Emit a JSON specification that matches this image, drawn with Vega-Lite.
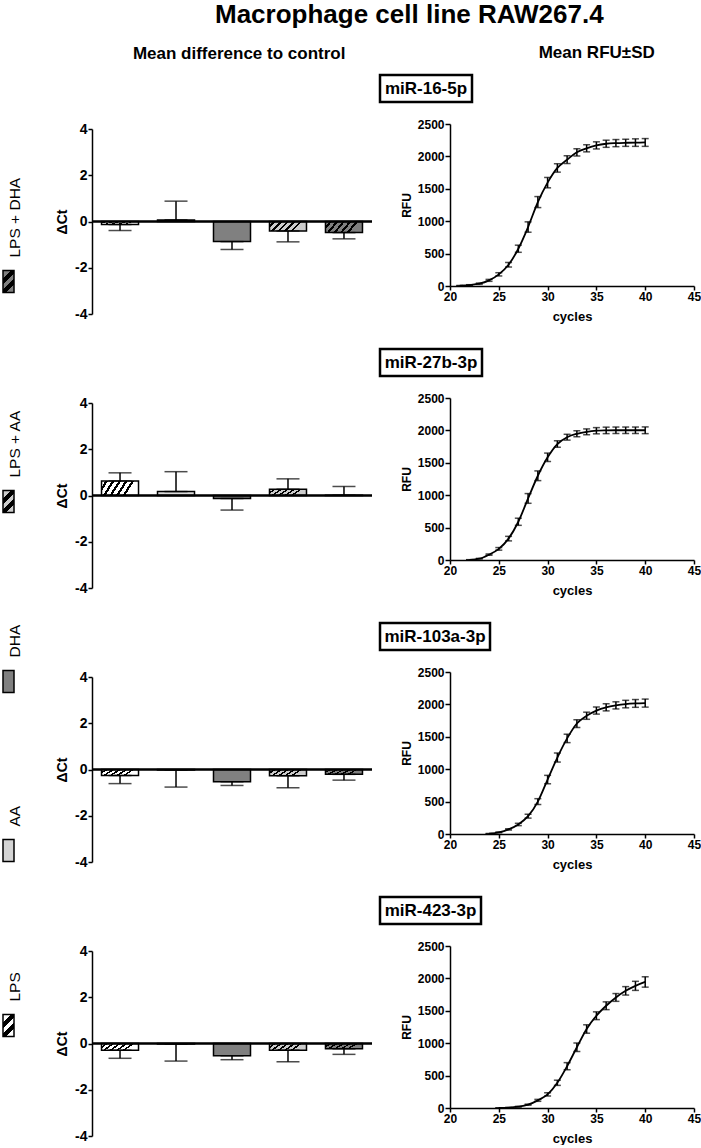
{
  "$schema": "https://vega.github.io/schema/vega-lite/v6.json",
  "padding": {"left": 0, "top": 2, "right": 0, "bottom": 0},
  "title": {"text": "Macrophage cell line RAW267.4", "fontSize": 26, "anchor": "middle", "dx": 59, "offset": 16},
  "datasets": {
    "bars": [
      {"mirna": "miR-16-5p", "treatment": "LPS", "dct": -0.13, "err": -0.39},
      {"mirna": "miR-16-5p", "treatment": "AA", "dct": 0.07, "err": 0.88},
      {"mirna": "miR-16-5p", "treatment": "DHA", "dct": -0.87, "err": -1.21},
      {"mirna": "miR-16-5p", "treatment": "LPS + AA", "dct": -0.41, "err": -0.88},
      {"mirna": "miR-16-5p", "treatment": "LPS + DHA", "dct": -0.48, "err": -0.75},
      {"mirna": "miR-27b-3p", "treatment": "LPS", "dct": 0.63, "err": 0.98},
      {"mirna": "miR-27b-3p", "treatment": "AA", "dct": 0.17, "err": 1.03},
      {"mirna": "miR-27b-3p", "treatment": "DHA", "dct": -0.13, "err": -0.63},
      {"mirna": "miR-27b-3p", "treatment": "LPS + AA", "dct": 0.27, "err": 0.72},
      {"mirna": "miR-27b-3p", "treatment": "LPS + DHA", "dct": 0.01, "err": 0.39},
      {"mirna": "miR-103a-3p", "treatment": "LPS", "dct": -0.26, "err": -0.61},
      {"mirna": "miR-103a-3p", "treatment": "AA", "dct": -0.02, "err": -0.76},
      {"mirna": "miR-103a-3p", "treatment": "DHA", "dct": -0.53, "err": -0.69},
      {"mirna": "miR-103a-3p", "treatment": "LPS + AA", "dct": -0.27, "err": -0.79},
      {"mirna": "miR-103a-3p", "treatment": "LPS + DHA", "dct": -0.21, "err": -0.46},
      {"mirna": "miR-423-3p", "treatment": "LPS", "dct": -0.29, "err": -0.64},
      {"mirna": "miR-423-3p", "treatment": "AA", "dct": -0.02, "err": -0.76},
      {"mirna": "miR-423-3p", "treatment": "DHA", "dct": -0.53, "err": -0.7},
      {"mirna": "miR-423-3p", "treatment": "LPS + AA", "dct": -0.29, "err": -0.79},
      {"mirna": "miR-423-3p", "treatment": "LPS + DHA", "dct": -0.23, "err": -0.47}
    ],
    "curves": [
      {"mirna": "miR-16-5p", "cycle": 21, "rfu": 5, "sd": 3},
      {"mirna": "miR-16-5p", "cycle": 22, "rfu": 15, "sd": 5},
      {"mirna": "miR-16-5p", "cycle": 23, "rfu": 35, "sd": 10},
      {"mirna": "miR-16-5p", "cycle": 24, "rfu": 87, "sd": 15},
      {"mirna": "miR-16-5p", "cycle": 25, "rfu": 180, "sd": 25},
      {"mirna": "miR-16-5p", "cycle": 26, "rfu": 328, "sd": 35},
      {"mirna": "miR-16-5p", "cycle": 27, "rfu": 575, "sd": 55},
      {"mirna": "miR-16-5p", "cycle": 28, "rfu": 910, "sd": 80},
      {"mirna": "miR-16-5p", "cycle": 29, "rfu": 1295, "sd": 85},
      {"mirna": "miR-16-5p", "cycle": 30, "rfu": 1595, "sd": 80},
      {"mirna": "miR-16-5p", "cycle": 31, "rfu": 1822, "sd": 65},
      {"mirna": "miR-16-5p", "cycle": 32, "rfu": 1950, "sd": 60},
      {"mirna": "miR-16-5p", "cycle": 33, "rfu": 2063, "sd": 55},
      {"mirna": "miR-16-5p", "cycle": 34, "rfu": 2125, "sd": 55},
      {"mirna": "miR-16-5p", "cycle": 35, "rfu": 2170, "sd": 55},
      {"mirna": "miR-16-5p", "cycle": 36, "rfu": 2195, "sd": 55},
      {"mirna": "miR-16-5p", "cycle": 37, "rfu": 2205, "sd": 55},
      {"mirna": "miR-16-5p", "cycle": 38, "rfu": 2210, "sd": 55},
      {"mirna": "miR-16-5p", "cycle": 39, "rfu": 2213, "sd": 58},
      {"mirna": "miR-16-5p", "cycle": 40, "rfu": 2215, "sd": 60},
      {"mirna": "miR-27b-3p", "cycle": 22, "rfu": 3, "sd": 2},
      {"mirna": "miR-27b-3p", "cycle": 23, "rfu": 20, "sd": 5},
      {"mirna": "miR-27b-3p", "cycle": 24, "rfu": 83, "sd": 10},
      {"mirna": "miR-27b-3p", "cycle": 25, "rfu": 172, "sd": 20},
      {"mirna": "miR-27b-3p", "cycle": 26, "rfu": 330, "sd": 35},
      {"mirna": "miR-27b-3p", "cycle": 27, "rfu": 590, "sd": 55},
      {"mirna": "miR-27b-3p", "cycle": 28, "rfu": 950, "sd": 75},
      {"mirna": "miR-27b-3p", "cycle": 29, "rfu": 1300, "sd": 75},
      {"mirna": "miR-27b-3p", "cycle": 30, "rfu": 1585, "sd": 65},
      {"mirna": "miR-27b-3p", "cycle": 31, "rfu": 1790, "sd": 50},
      {"mirna": "miR-27b-3p", "cycle": 32, "rfu": 1895, "sd": 45},
      {"mirna": "miR-27b-3p", "cycle": 33, "rfu": 1948, "sd": 45},
      {"mirna": "miR-27b-3p", "cycle": 34, "rfu": 1978, "sd": 45},
      {"mirna": "miR-27b-3p", "cycle": 35, "rfu": 1995, "sd": 48},
      {"mirna": "miR-27b-3p", "cycle": 36, "rfu": 2000, "sd": 50},
      {"mirna": "miR-27b-3p", "cycle": 37, "rfu": 2002, "sd": 50},
      {"mirna": "miR-27b-3p", "cycle": 38, "rfu": 2002, "sd": 50},
      {"mirna": "miR-27b-3p", "cycle": 39, "rfu": 2002, "sd": 50},
      {"mirna": "miR-27b-3p", "cycle": 40, "rfu": 2002, "sd": 52},
      {"mirna": "miR-103a-3p", "cycle": 24, "rfu": 5, "sd": 3},
      {"mirna": "miR-103a-3p", "cycle": 25, "rfu": 25, "sd": 6},
      {"mirna": "miR-103a-3p", "cycle": 26, "rfu": 71, "sd": 10},
      {"mirna": "miR-103a-3p", "cycle": 27, "rfu": 147, "sd": 18},
      {"mirna": "miR-103a-3p", "cycle": 28, "rfu": 275, "sd": 30},
      {"mirna": "miR-103a-3p", "cycle": 29, "rfu": 500, "sd": 45},
      {"mirna": "miR-103a-3p", "cycle": 30, "rfu": 840, "sd": 65},
      {"mirna": "miR-103a-3p", "cycle": 31, "rfu": 1180, "sd": 70},
      {"mirna": "miR-103a-3p", "cycle": 32, "rfu": 1475, "sd": 65},
      {"mirna": "miR-103a-3p", "cycle": 33, "rfu": 1705, "sd": 60},
      {"mirna": "miR-103a-3p", "cycle": 34, "rfu": 1825, "sd": 55},
      {"mirna": "miR-103a-3p", "cycle": 35, "rfu": 1905, "sd": 55},
      {"mirna": "miR-103a-3p", "cycle": 36, "rfu": 1955, "sd": 55},
      {"mirna": "miR-103a-3p", "cycle": 37, "rfu": 1985, "sd": 55},
      {"mirna": "miR-103a-3p", "cycle": 38, "rfu": 2005, "sd": 58},
      {"mirna": "miR-103a-3p", "cycle": 39, "rfu": 2015, "sd": 60},
      {"mirna": "miR-103a-3p", "cycle": 40, "rfu": 2020, "sd": 62},
      {"mirna": "miR-423-3p", "cycle": 25, "rfu": 1, "sd": 1},
      {"mirna": "miR-423-3p", "cycle": 26, "rfu": 5, "sd": 3},
      {"mirna": "miR-423-3p", "cycle": 27, "rfu": 20, "sd": 5},
      {"mirna": "miR-423-3p", "cycle": 28, "rfu": 51, "sd": 8},
      {"mirna": "miR-423-3p", "cycle": 29, "rfu": 118, "sd": 15},
      {"mirna": "miR-423-3p", "cycle": 30, "rfu": 210, "sd": 25},
      {"mirna": "miR-423-3p", "cycle": 31, "rfu": 389, "sd": 40},
      {"mirna": "miR-423-3p", "cycle": 32, "rfu": 645, "sd": 55},
      {"mirna": "miR-423-3p", "cycle": 33, "rfu": 937, "sd": 65},
      {"mirna": "miR-423-3p", "cycle": 34, "rfu": 1219, "sd": 65},
      {"mirna": "miR-423-3p", "cycle": 35, "rfu": 1424, "sd": 60},
      {"mirna": "miR-423-3p", "cycle": 36, "rfu": 1578, "sd": 60},
      {"mirna": "miR-423-3p", "cycle": 37, "rfu": 1706, "sd": 60},
      {"mirna": "miR-423-3p", "cycle": 38, "rfu": 1808, "sd": 65},
      {"mirna": "miR-423-3p", "cycle": 39, "rfu": 1885, "sd": 70},
      {"mirna": "miR-423-3p", "cycle": 40, "rfu": 1945, "sd": 80}
    ],
    "legend": [
      {"treatment": "LPS + DHA", "order": 1},
      {"treatment": "LPS + AA", "order": 2},
      {"treatment": "DHA", "order": 3},
      {"treatment": "AA", "order": 4},
      {"treatment": "LPS", "order": 5}
    ],
    "labels": [
      {"label": "miR-16-5p"},
      {"label": "miR-27b-3p"},
      {"label": "miR-103a-3p"},
      {"label": "miR-423-3p"}
    ]
  },
  "spacing": 32,
  "hconcat": [
    {
      "width": 15,
      "height": 975,
      "data": {"name": "legend"},
      "encoding": {
        "y": {"field": "order", "type": "quantitative", "scale": {"domain": [1, 2, 3, 4, 5], "range": [206.5, 426.5, 606.5, 775.5, 950.5]}, "axis": null}
      },
      "layer": [
        {"transform": [{"filter": {"field": "treatment", "equal": "LPS"}}],
         "mark": {"type": "point", "shape": "M-0.5,-1H0.5V1H-0.5Z", "size": 484, "filled": true, "opacity": 1, "stroke": "black", "strokeWidth": 1.5,
           "fill": {"gradient": "linear", "x1": 0, "y1": 0, "x2": 0.6, "y2": 1.2, "stops": [
             {"offset": 0, "color": "#ffffff"}, {"offset": 0.25, "color": "#ffffff"}, {"offset": 0.25, "color": "#000000"}, {"offset": 0.42, "color": "#000000"},
             {"offset": 0.42, "color": "#ffffff"}, {"offset": 0.58, "color": "#ffffff"}, {"offset": 0.58, "color": "#000000"}, {"offset": 0.75, "color": "#000000"},
             {"offset": 0.75, "color": "#ffffff"}, {"offset": 1, "color": "#ffffff"}]}}},
        {"transform": [{"filter": {"field": "treatment", "equal": "AA"}}],
         "mark": {"type": "point", "shape": "M-0.5,-1H0.5V1H-0.5Z", "size": 484, "filled": true, "opacity": 1, "stroke": "black", "strokeWidth": 1.5, "fill": "#d4d4d4"}},
        {"transform": [{"filter": {"field": "treatment", "equal": "DHA"}}],
         "mark": {"type": "point", "shape": "M-0.5,-1H0.5V1H-0.5Z", "size": 484, "filled": true, "opacity": 1, "stroke": "black", "strokeWidth": 1.5, "fill": "#808080"}},
        {"transform": [{"filter": {"field": "treatment", "equal": "LPS + AA"}}],
         "mark": {"type": "point", "shape": "M-0.5,-1H0.5V1H-0.5Z", "size": 484, "filled": true, "opacity": 1, "stroke": "black", "strokeWidth": 1.5,
           "fill": {"gradient": "linear", "x1": 0, "y1": 0, "x2": 0.6, "y2": 1.2, "stops": [
             {"offset": 0, "color": "#cccccc"}, {"offset": 0.25, "color": "#cccccc"}, {"offset": 0.25, "color": "#000000"}, {"offset": 0.42, "color": "#000000"},
             {"offset": 0.42, "color": "#cccccc"}, {"offset": 0.58, "color": "#cccccc"}, {"offset": 0.58, "color": "#000000"}, {"offset": 0.75, "color": "#000000"},
             {"offset": 0.75, "color": "#cccccc"}, {"offset": 1, "color": "#cccccc"}]}}},
        {"transform": [{"filter": {"field": "treatment", "equal": "LPS + DHA"}}],
         "mark": {"type": "point", "shape": "M-0.5,-1H0.5V1H-0.5Z", "size": 484, "filled": true, "opacity": 1, "stroke": "black", "strokeWidth": 1.5,
           "fill": {"gradient": "linear", "x1": 0, "y1": 0, "x2": 0.6, "y2": 1.2, "stops": [
             {"offset": 0, "color": "#7f7f7f"}, {"offset": 0.25, "color": "#7f7f7f"}, {"offset": 0.25, "color": "#000000"}, {"offset": 0.42, "color": "#000000"},
             {"offset": 0.42, "color": "#7f7f7f"}, {"offset": 0.58, "color": "#7f7f7f"}, {"offset": 0.58, "color": "#000000"}, {"offset": 0.75, "color": "#000000"},
             {"offset": 0.75, "color": "#7f7f7f"}, {"offset": 1, "color": "#7f7f7f"}]}}},
        {
          "mark": {"type": "text", "angle": 270, "align": "left", "baseline": "middle", "dx": 24, "dy": 6, "fontSize": 15.5, "font": "Liberation Sans", "color": "black"},
          "encoding": {"text": {"field": "treatment"}}
        }
      ]
    },
    {
      "spacing": 5,
      "hconcat": [
        {
          "title": {"text": "Mean difference to control", "fontSize": 17, "anchor": "middle", "dx": 25, "offset": 12.5},
          "spacing": 20,
          "vconcat": [
            {"width": 10, "height": 26.5, "data": {"values": []}, "mark": "point"},
            {
              "spacing": 75,
              "vconcat": [
                {
                  "width": 280, "height": 185,
                  "data": {"name": "bars"},
                  "transform": [{"filter": {"field": "mirna", "equal": "miR-16-5p"}}],
                  "layer": [
                    {
                      "encoding": {
                        "x": {"field": "treatment", "type": "nominal", "scale": {"domain": ["LPS", "AA", "DHA", "LPS + AA", "LPS + DHA"], "paddingInner": 0.339, "paddingOuter": 0.17}, "axis": null},
                        "y": {"field": "dct", "type": "quantitative", "title": "ΔCt", "scale": {"domain": [-4, 4]}, "axis": {"values": [-4, -2, 0, 2, 4], "labelExpr": "'' + datum.value", "labelFontSize": 14, "titleFontSize": 14, "tickSize": 4, "labelPadding": 1, "titlePadding": 5, "labelFlush": false, "labelOverlap": false}}
                      },
                      "layer": [
                        {"transform": [{"filter": {"field": "treatment", "equal": "LPS"}}], "mark": {"type": "bar", "stroke": "black", "strokeWidth": 1.5,
                          "fill": {"gradient": "linear", "x1": 0, "y1": 0, "x2": 1, "y2": 0.25, "stops": [
                            {"offset": 0, "color": "#ffffff"}, {"offset": 0.1, "color": "#ffffff"}, {"offset": 0.1, "color": "#000000"}, {"offset": 0.1667, "color": "#000000"},
                            {"offset": 0.1667, "color": "#ffffff"}, {"offset": 0.2667, "color": "#ffffff"}, {"offset": 0.2667, "color": "#000000"}, {"offset": 0.3333, "color": "#000000"},
                            {"offset": 0.3333, "color": "#ffffff"}, {"offset": 0.4333, "color": "#ffffff"}, {"offset": 0.4333, "color": "#000000"}, {"offset": 0.5, "color": "#000000"},
                            {"offset": 0.5, "color": "#ffffff"}, {"offset": 0.6, "color": "#ffffff"}, {"offset": 0.6, "color": "#000000"}, {"offset": 0.6667, "color": "#000000"},
                            {"offset": 0.6667, "color": "#ffffff"}, {"offset": 0.7667, "color": "#ffffff"}, {"offset": 0.7667, "color": "#000000"}, {"offset": 0.8333, "color": "#000000"},
                            {"offset": 0.8333, "color": "#ffffff"}, {"offset": 1, "color": "#ffffff"}]}}},
                        {"transform": [{"filter": {"field": "treatment", "equal": "AA"}}], "mark": {"type": "bar", "stroke": "black", "strokeWidth": 1.5, "fill": "#dcdcdc"}},
                        {"transform": [{"filter": {"field": "treatment", "equal": "DHA"}}], "mark": {"type": "bar", "stroke": "black", "strokeWidth": 1.5, "fill": "#808080"}},
                        {"transform": [{"filter": {"field": "treatment", "equal": "LPS + AA"}}], "mark": {"type": "bar", "stroke": "black", "strokeWidth": 1.5,
                          "fill": {"gradient": "linear", "x1": 0, "y1": 0, "x2": 1, "y2": 0.25, "stops": [
                            {"offset": 0, "color": "#cccccc"}, {"offset": 0.1, "color": "#cccccc"}, {"offset": 0.1, "color": "#000000"}, {"offset": 0.1667, "color": "#000000"},
                            {"offset": 0.1667, "color": "#cccccc"}, {"offset": 0.2667, "color": "#cccccc"}, {"offset": 0.2667, "color": "#000000"}, {"offset": 0.3333, "color": "#000000"},
                            {"offset": 0.3333, "color": "#cccccc"}, {"offset": 0.4333, "color": "#cccccc"}, {"offset": 0.4333, "color": "#000000"}, {"offset": 0.5, "color": "#000000"},
                            {"offset": 0.5, "color": "#cccccc"}, {"offset": 0.6, "color": "#cccccc"}, {"offset": 0.6, "color": "#000000"}, {"offset": 0.6667, "color": "#000000"},
                            {"offset": 0.6667, "color": "#cccccc"}, {"offset": 0.7667, "color": "#cccccc"}, {"offset": 0.7667, "color": "#000000"}, {"offset": 0.8333, "color": "#000000"},
                            {"offset": 0.8333, "color": "#cccccc"}, {"offset": 1, "color": "#cccccc"}]}}},
                        {"transform": [{"filter": {"field": "treatment", "equal": "LPS + DHA"}}], "mark": {"type": "bar", "stroke": "black", "strokeWidth": 1.5,
                          "fill": {"gradient": "linear", "x1": 0, "y1": 0, "x2": 1, "y2": 0.25, "stops": [
                            {"offset": 0, "color": "#7f7f7f"}, {"offset": 0.1, "color": "#7f7f7f"}, {"offset": 0.1, "color": "#000000"}, {"offset": 0.1667, "color": "#000000"},
                            {"offset": 0.1667, "color": "#7f7f7f"}, {"offset": 0.2667, "color": "#7f7f7f"}, {"offset": 0.2667, "color": "#000000"}, {"offset": 0.3333, "color": "#000000"},
                            {"offset": 0.3333, "color": "#7f7f7f"}, {"offset": 0.4333, "color": "#7f7f7f"}, {"offset": 0.4333, "color": "#000000"}, {"offset": 0.5, "color": "#000000"},
                            {"offset": 0.5, "color": "#7f7f7f"}, {"offset": 0.6, "color": "#7f7f7f"}, {"offset": 0.6, "color": "#000000"}, {"offset": 0.6667, "color": "#000000"},
                            {"offset": 0.6667, "color": "#7f7f7f"}, {"offset": 0.7667, "color": "#7f7f7f"}, {"offset": 0.7667, "color": "#000000"}, {"offset": 0.8333, "color": "#000000"},
                            {"offset": 0.8333, "color": "#7f7f7f"}, {"offset": 1, "color": "#7f7f7f"}]}}},
                        {"mark": {"type": "errorbar", "ticks": {"size": 23, "thickness": 1.5, "color": "black"}, "rule": {"strokeWidth": 1.5, "color": "black"}},
                         "encoding": {"y2": {"field": "err"}}}
                      ]
                    },
                    {"mark": {"type": "rule", "color": "black", "strokeWidth": 1.5}, "encoding": {"y": {"datum": 0, "type": "quantitative", "title": "ΔCt"}}}
                  ]
                },
                {
                  "width": 280, "height": 185,
                  "data": {"name": "bars"},
                  "transform": [{"filter": {"field": "mirna", "equal": "miR-27b-3p"}}],
                  "layer": [
                    {
                      "encoding": {
                        "x": {"field": "treatment", "type": "nominal", "scale": {"domain": ["LPS", "AA", "DHA", "LPS + AA", "LPS + DHA"], "paddingInner": 0.339, "paddingOuter": 0.17}, "axis": null},
                        "y": {"field": "dct", "type": "quantitative", "title": "ΔCt", "scale": {"domain": [-4, 4]}, "axis": {"values": [-4, -2, 0, 2, 4], "labelExpr": "'' + datum.value", "labelFontSize": 14, "titleFontSize": 14, "tickSize": 4, "labelPadding": 1, "titlePadding": 5, "labelFlush": false, "labelOverlap": false}}
                      },
                      "layer": [
                        {"transform": [{"filter": {"field": "treatment", "equal": "LPS"}}], "mark": {"type": "bar", "stroke": "black", "strokeWidth": 1.5,
                          "fill": {"gradient": "linear", "x1": 0, "y1": 0, "x2": 1, "y2": 0.25, "stops": [
                            {"offset": 0, "color": "#ffffff"}, {"offset": 0.1, "color": "#ffffff"}, {"offset": 0.1, "color": "#000000"}, {"offset": 0.1667, "color": "#000000"},
                            {"offset": 0.1667, "color": "#ffffff"}, {"offset": 0.2667, "color": "#ffffff"}, {"offset": 0.2667, "color": "#000000"}, {"offset": 0.3333, "color": "#000000"},
                            {"offset": 0.3333, "color": "#ffffff"}, {"offset": 0.4333, "color": "#ffffff"}, {"offset": 0.4333, "color": "#000000"}, {"offset": 0.5, "color": "#000000"},
                            {"offset": 0.5, "color": "#ffffff"}, {"offset": 0.6, "color": "#ffffff"}, {"offset": 0.6, "color": "#000000"}, {"offset": 0.6667, "color": "#000000"},
                            {"offset": 0.6667, "color": "#ffffff"}, {"offset": 0.7667, "color": "#ffffff"}, {"offset": 0.7667, "color": "#000000"}, {"offset": 0.8333, "color": "#000000"},
                            {"offset": 0.8333, "color": "#ffffff"}, {"offset": 1, "color": "#ffffff"}]}}},
                        {"transform": [{"filter": {"field": "treatment", "equal": "AA"}}], "mark": {"type": "bar", "stroke": "black", "strokeWidth": 1.5, "fill": "#dcdcdc"}},
                        {"transform": [{"filter": {"field": "treatment", "equal": "DHA"}}], "mark": {"type": "bar", "stroke": "black", "strokeWidth": 1.5, "fill": "#808080"}},
                        {"transform": [{"filter": {"field": "treatment", "equal": "LPS + AA"}}], "mark": {"type": "bar", "stroke": "black", "strokeWidth": 1.5,
                          "fill": {"gradient": "linear", "x1": 0, "y1": 0, "x2": 1, "y2": 0.25, "stops": [
                            {"offset": 0, "color": "#cccccc"}, {"offset": 0.1, "color": "#cccccc"}, {"offset": 0.1, "color": "#000000"}, {"offset": 0.1667, "color": "#000000"},
                            {"offset": 0.1667, "color": "#cccccc"}, {"offset": 0.2667, "color": "#cccccc"}, {"offset": 0.2667, "color": "#000000"}, {"offset": 0.3333, "color": "#000000"},
                            {"offset": 0.3333, "color": "#cccccc"}, {"offset": 0.4333, "color": "#cccccc"}, {"offset": 0.4333, "color": "#000000"}, {"offset": 0.5, "color": "#000000"},
                            {"offset": 0.5, "color": "#cccccc"}, {"offset": 0.6, "color": "#cccccc"}, {"offset": 0.6, "color": "#000000"}, {"offset": 0.6667, "color": "#000000"},
                            {"offset": 0.6667, "color": "#cccccc"}, {"offset": 0.7667, "color": "#cccccc"}, {"offset": 0.7667, "color": "#000000"}, {"offset": 0.8333, "color": "#000000"},
                            {"offset": 0.8333, "color": "#cccccc"}, {"offset": 1, "color": "#cccccc"}]}}},
                        {"transform": [{"filter": {"field": "treatment", "equal": "LPS + DHA"}}], "mark": {"type": "bar", "stroke": "black", "strokeWidth": 1.5,
                          "fill": {"gradient": "linear", "x1": 0, "y1": 0, "x2": 1, "y2": 0.25, "stops": [
                            {"offset": 0, "color": "#7f7f7f"}, {"offset": 0.1, "color": "#7f7f7f"}, {"offset": 0.1, "color": "#000000"}, {"offset": 0.1667, "color": "#000000"},
                            {"offset": 0.1667, "color": "#7f7f7f"}, {"offset": 0.2667, "color": "#7f7f7f"}, {"offset": 0.2667, "color": "#000000"}, {"offset": 0.3333, "color": "#000000"},
                            {"offset": 0.3333, "color": "#7f7f7f"}, {"offset": 0.4333, "color": "#7f7f7f"}, {"offset": 0.4333, "color": "#000000"}, {"offset": 0.5, "color": "#000000"},
                            {"offset": 0.5, "color": "#7f7f7f"}, {"offset": 0.6, "color": "#7f7f7f"}, {"offset": 0.6, "color": "#000000"}, {"offset": 0.6667, "color": "#000000"},
                            {"offset": 0.6667, "color": "#7f7f7f"}, {"offset": 0.7667, "color": "#7f7f7f"}, {"offset": 0.7667, "color": "#000000"}, {"offset": 0.8333, "color": "#000000"},
                            {"offset": 0.8333, "color": "#7f7f7f"}, {"offset": 1, "color": "#7f7f7f"}]}}},
                        {"mark": {"type": "errorbar", "ticks": {"size": 23, "thickness": 1.5, "color": "black"}, "rule": {"strokeWidth": 1.5, "color": "black"}},
                         "encoding": {"y2": {"field": "err"}}}
                      ]
                    },
                    {"mark": {"type": "rule", "color": "black", "strokeWidth": 1.5}, "encoding": {"y": {"datum": 0, "type": "quantitative", "title": "ΔCt"}}}
                  ]
                },
                {
                  "width": 280, "height": 185,
                  "data": {"name": "bars"},
                  "transform": [{"filter": {"field": "mirna", "equal": "miR-103a-3p"}}],
                  "layer": [
                    {
                      "encoding": {
                        "x": {"field": "treatment", "type": "nominal", "scale": {"domain": ["LPS", "AA", "DHA", "LPS + AA", "LPS + DHA"], "paddingInner": 0.339, "paddingOuter": 0.17}, "axis": null},
                        "y": {"field": "dct", "type": "quantitative", "title": "ΔCt", "scale": {"domain": [-4, 4]}, "axis": {"values": [-4, -2, 0, 2, 4], "labelExpr": "'' + datum.value", "labelFontSize": 14, "titleFontSize": 14, "tickSize": 4, "labelPadding": 1, "titlePadding": 5, "labelFlush": false, "labelOverlap": false}}
                      },
                      "layer": [
                        {"transform": [{"filter": {"field": "treatment", "equal": "LPS"}}], "mark": {"type": "bar", "stroke": "black", "strokeWidth": 1.5,
                          "fill": {"gradient": "linear", "x1": 0, "y1": 0, "x2": 1, "y2": 0.25, "stops": [
                            {"offset": 0, "color": "#ffffff"}, {"offset": 0.1, "color": "#ffffff"}, {"offset": 0.1, "color": "#000000"}, {"offset": 0.1667, "color": "#000000"},
                            {"offset": 0.1667, "color": "#ffffff"}, {"offset": 0.2667, "color": "#ffffff"}, {"offset": 0.2667, "color": "#000000"}, {"offset": 0.3333, "color": "#000000"},
                            {"offset": 0.3333, "color": "#ffffff"}, {"offset": 0.4333, "color": "#ffffff"}, {"offset": 0.4333, "color": "#000000"}, {"offset": 0.5, "color": "#000000"},
                            {"offset": 0.5, "color": "#ffffff"}, {"offset": 0.6, "color": "#ffffff"}, {"offset": 0.6, "color": "#000000"}, {"offset": 0.6667, "color": "#000000"},
                            {"offset": 0.6667, "color": "#ffffff"}, {"offset": 0.7667, "color": "#ffffff"}, {"offset": 0.7667, "color": "#000000"}, {"offset": 0.8333, "color": "#000000"},
                            {"offset": 0.8333, "color": "#ffffff"}, {"offset": 1, "color": "#ffffff"}]}}},
                        {"transform": [{"filter": {"field": "treatment", "equal": "AA"}}], "mark": {"type": "bar", "stroke": "black", "strokeWidth": 1.5, "fill": "#dcdcdc"}},
                        {"transform": [{"filter": {"field": "treatment", "equal": "DHA"}}], "mark": {"type": "bar", "stroke": "black", "strokeWidth": 1.5, "fill": "#808080"}},
                        {"transform": [{"filter": {"field": "treatment", "equal": "LPS + AA"}}], "mark": {"type": "bar", "stroke": "black", "strokeWidth": 1.5,
                          "fill": {"gradient": "linear", "x1": 0, "y1": 0, "x2": 1, "y2": 0.25, "stops": [
                            {"offset": 0, "color": "#cccccc"}, {"offset": 0.1, "color": "#cccccc"}, {"offset": 0.1, "color": "#000000"}, {"offset": 0.1667, "color": "#000000"},
                            {"offset": 0.1667, "color": "#cccccc"}, {"offset": 0.2667, "color": "#cccccc"}, {"offset": 0.2667, "color": "#000000"}, {"offset": 0.3333, "color": "#000000"},
                            {"offset": 0.3333, "color": "#cccccc"}, {"offset": 0.4333, "color": "#cccccc"}, {"offset": 0.4333, "color": "#000000"}, {"offset": 0.5, "color": "#000000"},
                            {"offset": 0.5, "color": "#cccccc"}, {"offset": 0.6, "color": "#cccccc"}, {"offset": 0.6, "color": "#000000"}, {"offset": 0.6667, "color": "#000000"},
                            {"offset": 0.6667, "color": "#cccccc"}, {"offset": 0.7667, "color": "#cccccc"}, {"offset": 0.7667, "color": "#000000"}, {"offset": 0.8333, "color": "#000000"},
                            {"offset": 0.8333, "color": "#cccccc"}, {"offset": 1, "color": "#cccccc"}]}}},
                        {"transform": [{"filter": {"field": "treatment", "equal": "LPS + DHA"}}], "mark": {"type": "bar", "stroke": "black", "strokeWidth": 1.5,
                          "fill": {"gradient": "linear", "x1": 0, "y1": 0, "x2": 1, "y2": 0.25, "stops": [
                            {"offset": 0, "color": "#7f7f7f"}, {"offset": 0.1, "color": "#7f7f7f"}, {"offset": 0.1, "color": "#000000"}, {"offset": 0.1667, "color": "#000000"},
                            {"offset": 0.1667, "color": "#7f7f7f"}, {"offset": 0.2667, "color": "#7f7f7f"}, {"offset": 0.2667, "color": "#000000"}, {"offset": 0.3333, "color": "#000000"},
                            {"offset": 0.3333, "color": "#7f7f7f"}, {"offset": 0.4333, "color": "#7f7f7f"}, {"offset": 0.4333, "color": "#000000"}, {"offset": 0.5, "color": "#000000"},
                            {"offset": 0.5, "color": "#7f7f7f"}, {"offset": 0.6, "color": "#7f7f7f"}, {"offset": 0.6, "color": "#000000"}, {"offset": 0.6667, "color": "#000000"},
                            {"offset": 0.6667, "color": "#7f7f7f"}, {"offset": 0.7667, "color": "#7f7f7f"}, {"offset": 0.7667, "color": "#000000"}, {"offset": 0.8333, "color": "#000000"},
                            {"offset": 0.8333, "color": "#7f7f7f"}, {"offset": 1, "color": "#7f7f7f"}]}}},
                        {"mark": {"type": "errorbar", "ticks": {"size": 23, "thickness": 1.5, "color": "black"}, "rule": {"strokeWidth": 1.5, "color": "black"}},
                         "encoding": {"y2": {"field": "err"}}}
                      ]
                    },
                    {"mark": {"type": "rule", "color": "black", "strokeWidth": 1.5}, "encoding": {"y": {"datum": 0, "type": "quantitative", "title": "ΔCt"}}}
                  ]
                },
                {
                  "width": 280, "height": 185,
                  "data": {"name": "bars"},
                  "transform": [{"filter": {"field": "mirna", "equal": "miR-423-3p"}}],
                  "layer": [
                    {
                      "encoding": {
                        "x": {"field": "treatment", "type": "nominal", "scale": {"domain": ["LPS", "AA", "DHA", "LPS + AA", "LPS + DHA"], "paddingInner": 0.339, "paddingOuter": 0.17}, "axis": null},
                        "y": {"field": "dct", "type": "quantitative", "title": "ΔCt", "scale": {"domain": [-4, 4]}, "axis": {"values": [-4, -2, 0, 2, 4], "labelExpr": "'' + datum.value", "labelFontSize": 14, "titleFontSize": 14, "tickSize": 4, "labelPadding": 1, "titlePadding": 5, "labelFlush": false, "labelOverlap": false}}
                      },
                      "layer": [
                        {"transform": [{"filter": {"field": "treatment", "equal": "LPS"}}], "mark": {"type": "bar", "stroke": "black", "strokeWidth": 1.5,
                          "fill": {"gradient": "linear", "x1": 0, "y1": 0, "x2": 1, "y2": 0.25, "stops": [
                            {"offset": 0, "color": "#ffffff"}, {"offset": 0.1, "color": "#ffffff"}, {"offset": 0.1, "color": "#000000"}, {"offset": 0.1667, "color": "#000000"},
                            {"offset": 0.1667, "color": "#ffffff"}, {"offset": 0.2667, "color": "#ffffff"}, {"offset": 0.2667, "color": "#000000"}, {"offset": 0.3333, "color": "#000000"},
                            {"offset": 0.3333, "color": "#ffffff"}, {"offset": 0.4333, "color": "#ffffff"}, {"offset": 0.4333, "color": "#000000"}, {"offset": 0.5, "color": "#000000"},
                            {"offset": 0.5, "color": "#ffffff"}, {"offset": 0.6, "color": "#ffffff"}, {"offset": 0.6, "color": "#000000"}, {"offset": 0.6667, "color": "#000000"},
                            {"offset": 0.6667, "color": "#ffffff"}, {"offset": 0.7667, "color": "#ffffff"}, {"offset": 0.7667, "color": "#000000"}, {"offset": 0.8333, "color": "#000000"},
                            {"offset": 0.8333, "color": "#ffffff"}, {"offset": 1, "color": "#ffffff"}]}}},
                        {"transform": [{"filter": {"field": "treatment", "equal": "AA"}}], "mark": {"type": "bar", "stroke": "black", "strokeWidth": 1.5, "fill": "#dcdcdc"}},
                        {"transform": [{"filter": {"field": "treatment", "equal": "DHA"}}], "mark": {"type": "bar", "stroke": "black", "strokeWidth": 1.5, "fill": "#808080"}},
                        {"transform": [{"filter": {"field": "treatment", "equal": "LPS + AA"}}], "mark": {"type": "bar", "stroke": "black", "strokeWidth": 1.5,
                          "fill": {"gradient": "linear", "x1": 0, "y1": 0, "x2": 1, "y2": 0.25, "stops": [
                            {"offset": 0, "color": "#cccccc"}, {"offset": 0.1, "color": "#cccccc"}, {"offset": 0.1, "color": "#000000"}, {"offset": 0.1667, "color": "#000000"},
                            {"offset": 0.1667, "color": "#cccccc"}, {"offset": 0.2667, "color": "#cccccc"}, {"offset": 0.2667, "color": "#000000"}, {"offset": 0.3333, "color": "#000000"},
                            {"offset": 0.3333, "color": "#cccccc"}, {"offset": 0.4333, "color": "#cccccc"}, {"offset": 0.4333, "color": "#000000"}, {"offset": 0.5, "color": "#000000"},
                            {"offset": 0.5, "color": "#cccccc"}, {"offset": 0.6, "color": "#cccccc"}, {"offset": 0.6, "color": "#000000"}, {"offset": 0.6667, "color": "#000000"},
                            {"offset": 0.6667, "color": "#cccccc"}, {"offset": 0.7667, "color": "#cccccc"}, {"offset": 0.7667, "color": "#000000"}, {"offset": 0.8333, "color": "#000000"},
                            {"offset": 0.8333, "color": "#cccccc"}, {"offset": 1, "color": "#cccccc"}]}}},
                        {"transform": [{"filter": {"field": "treatment", "equal": "LPS + DHA"}}], "mark": {"type": "bar", "stroke": "black", "strokeWidth": 1.5,
                          "fill": {"gradient": "linear", "x1": 0, "y1": 0, "x2": 1, "y2": 0.25, "stops": [
                            {"offset": 0, "color": "#7f7f7f"}, {"offset": 0.1, "color": "#7f7f7f"}, {"offset": 0.1, "color": "#000000"}, {"offset": 0.1667, "color": "#000000"},
                            {"offset": 0.1667, "color": "#7f7f7f"}, {"offset": 0.2667, "color": "#7f7f7f"}, {"offset": 0.2667, "color": "#000000"}, {"offset": 0.3333, "color": "#000000"},
                            {"offset": 0.3333, "color": "#7f7f7f"}, {"offset": 0.4333, "color": "#7f7f7f"}, {"offset": 0.4333, "color": "#000000"}, {"offset": 0.5, "color": "#000000"},
                            {"offset": 0.5, "color": "#7f7f7f"}, {"offset": 0.6, "color": "#7f7f7f"}, {"offset": 0.6, "color": "#000000"}, {"offset": 0.6667, "color": "#000000"},
                            {"offset": 0.6667, "color": "#7f7f7f"}, {"offset": 0.7667, "color": "#7f7f7f"}, {"offset": 0.7667, "color": "#000000"}, {"offset": 0.8333, "color": "#000000"},
                            {"offset": 0.8333, "color": "#7f7f7f"}, {"offset": 1, "color": "#7f7f7f"}]}}},
                        {"mark": {"type": "errorbar", "ticks": {"size": 23, "thickness": 1.5, "color": "black"}, "rule": {"strokeWidth": 1.5, "color": "black"}},
                         "encoding": {"y2": {"field": "err"}}}
                      ]
                    },
                    {"mark": {"type": "rule", "color": "black", "strokeWidth": 1.5}, "encoding": {"y": {"datum": 0, "type": "quantitative", "title": "ΔCt"}}}
                  ]
                }
              ]
            }
          ]
        },
        {
          "title": {"text": "Mean RFU±SD", "fontSize": 17, "anchor": "middle", "dx": 57, "offset": 11.5},
          "spacing": 24,
          "vconcat": [
            {
              "spacing": 14,
              "vconcat": [
                {"width": 92, "height": 27, "view": {"stroke": "black", "strokeWidth": 2.5}, "data": {"name": "labels"}, "transform": [{"filter": {"field": "label", "equal": "miR-16-5p"}}],
                 "mark": {"type": "text", "fontSize": 17, "fontWeight": "bold", "font": "Liberation Sans", "color": "black"}, "encoding": {"text": {"field": "label"}}},
                {"spacing": 0, "hconcat": [
                  {"width": 19.5, "height": 1, "data": {"values": []}, "mark": "point"},
                  {
                    "width": 244, "height": 162,
                    "data": {"name": "curves"},
                    "transform": [{"filter": {"field": "mirna", "equal": "miR-16-5p"}}],
                    "encoding": {
                      "x": {"field": "cycle", "type": "quantitative", "title": "cycles", "scale": {"domain": [20, 45]}, "axis": {"values": [20, 25, 30, 35, 40, 45], "labelFontSize": 12, "titleFontSize": 13, "tickSize": 4, "labelPadding": 1, "titlePadding": 8, "labelFlush": false, "labelOverlap": false}},
                      "y": {"field": "rfu", "type": "quantitative", "title": "RFU", "scale": {"domain": [0, 2500]}, "axis": {"values": [0, 500, 1000, 1500, 2000, 2500], "format": "d", "labelFontSize": 12, "titleFontSize": 12, "tickSize": 5, "labelPadding": 1, "titlePadding": 4, "labelFlush": false, "labelOverlap": false}}
                    },
                    "layer": [
                      {"mark": {"type": "line", "color": "black", "strokeWidth": 1.8, "interpolate": "monotone"}},
                      {"mark": {"type": "errorbar", "ticks": {"size": 7, "thickness": 1.5, "color": "black"}, "rule": {"strokeWidth": 1.5, "color": "black"}}, "encoding": {"yError": {"field": "sd"}}}
                    ]
                  }
                ]}
              ]
            },
            {
              "spacing": 14,
              "vconcat": [
                {"width": 102, "height": 27, "view": {"stroke": "black", "strokeWidth": 2.5}, "data": {"name": "labels"}, "transform": [{"filter": {"field": "label", "equal": "miR-27b-3p"}}],
                 "mark": {"type": "text", "fontSize": 17, "fontWeight": "bold", "font": "Liberation Sans", "color": "black"}, "encoding": {"text": {"field": "label"}}},
                {"spacing": 0, "hconcat": [
                  {"width": 19.5, "height": 1, "data": {"values": []}, "mark": "point"},
                  {
                    "width": 244, "height": 162,
                    "data": {"name": "curves"},
                    "transform": [{"filter": {"field": "mirna", "equal": "miR-27b-3p"}}],
                    "encoding": {
                      "x": {"field": "cycle", "type": "quantitative", "title": "cycles", "scale": {"domain": [20, 45]}, "axis": {"values": [20, 25, 30, 35, 40, 45], "labelFontSize": 12, "titleFontSize": 13, "tickSize": 4, "labelPadding": 1, "titlePadding": 8, "labelFlush": false, "labelOverlap": false}},
                      "y": {"field": "rfu", "type": "quantitative", "title": "RFU", "scale": {"domain": [0, 2500]}, "axis": {"values": [0, 500, 1000, 1500, 2000, 2500], "format": "d", "labelFontSize": 12, "titleFontSize": 12, "tickSize": 5, "labelPadding": 1, "titlePadding": 4, "labelFlush": false, "labelOverlap": false}}
                    },
                    "layer": [
                      {"mark": {"type": "line", "color": "black", "strokeWidth": 1.8, "interpolate": "monotone"}},
                      {"mark": {"type": "errorbar", "ticks": {"size": 7, "thickness": 1.5, "color": "black"}, "rule": {"strokeWidth": 1.5, "color": "black"}}, "encoding": {"yError": {"field": "sd"}}}
                    ]
                  }
                ]}
              ]
            },
            {
              "spacing": 14,
              "vconcat": [
                {"width": 110, "height": 27, "view": {"stroke": "black", "strokeWidth": 2.5}, "data": {"name": "labels"}, "transform": [{"filter": {"field": "label", "equal": "miR-103a-3p"}}],
                 "mark": {"type": "text", "fontSize": 17, "fontWeight": "bold", "font": "Liberation Sans", "color": "black"}, "encoding": {"text": {"field": "label"}}},
                {"spacing": 0, "hconcat": [
                  {"width": 19.5, "height": 1, "data": {"values": []}, "mark": "point"},
                  {
                    "width": 244, "height": 162,
                    "data": {"name": "curves"},
                    "transform": [{"filter": {"field": "mirna", "equal": "miR-103a-3p"}}],
                    "encoding": {
                      "x": {"field": "cycle", "type": "quantitative", "title": "cycles", "scale": {"domain": [20, 45]}, "axis": {"values": [20, 25, 30, 35, 40, 45], "labelFontSize": 12, "titleFontSize": 13, "tickSize": 4, "labelPadding": 1, "titlePadding": 8, "labelFlush": false, "labelOverlap": false}},
                      "y": {"field": "rfu", "type": "quantitative", "title": "RFU", "scale": {"domain": [0, 2500]}, "axis": {"values": [0, 500, 1000, 1500, 2000, 2500], "format": "d", "labelFontSize": 12, "titleFontSize": 12, "tickSize": 5, "labelPadding": 1, "titlePadding": 4, "labelFlush": false, "labelOverlap": false}}
                    },
                    "layer": [
                      {"mark": {"type": "line", "color": "black", "strokeWidth": 1.8, "interpolate": "monotone"}},
                      {"mark": {"type": "errorbar", "ticks": {"size": 7, "thickness": 1.5, "color": "black"}, "rule": {"strokeWidth": 1.5, "color": "black"}}, "encoding": {"yError": {"field": "sd"}}}
                    ]
                  }
                ]}
              ]
            },
            {
              "spacing": 14,
              "vconcat": [
                {"width": 101, "height": 27, "view": {"stroke": "black", "strokeWidth": 2.5}, "data": {"name": "labels"}, "transform": [{"filter": {"field": "label", "equal": "miR-423-3p"}}],
                 "mark": {"type": "text", "fontSize": 17, "fontWeight": "bold", "font": "Liberation Sans", "color": "black"}, "encoding": {"text": {"field": "label"}}},
                {"spacing": 0, "hconcat": [
                  {"width": 19.5, "height": 1, "data": {"values": []}, "mark": "point"},
                  {
                    "width": 244, "height": 162,
                    "data": {"name": "curves"},
                    "transform": [{"filter": {"field": "mirna", "equal": "miR-423-3p"}}],
                    "encoding": {
                      "x": {"field": "cycle", "type": "quantitative", "title": "cycles", "scale": {"domain": [20, 45]}, "axis": {"values": [20, 25, 30, 35, 40, 45], "labelFontSize": 12, "titleFontSize": 13, "tickSize": 4, "labelPadding": 1, "titlePadding": 8, "labelFlush": false, "labelOverlap": false}},
                      "y": {"field": "rfu", "type": "quantitative", "title": "RFU", "scale": {"domain": [0, 2500]}, "axis": {"values": [0, 500, 1000, 1500, 2000, 2500], "format": "d", "labelFontSize": 12, "titleFontSize": 12, "tickSize": 5, "labelPadding": 1, "titlePadding": 4, "labelFlush": false, "labelOverlap": false}}
                    },
                    "layer": [
                      {"mark": {"type": "line", "color": "black", "strokeWidth": 1.8, "interpolate": "monotone"}},
                      {"mark": {"type": "errorbar", "ticks": {"size": 7, "thickness": 1.5, "color": "black"}, "rule": {"strokeWidth": 1.5, "color": "black"}}, "encoding": {"yError": {"field": "sd"}}}
                    ]
                  }
                ]}
              ]
            }
          ]
        }
      ]
    }
  ],
  "config": {
    "view": {"stroke": null},
    "font": "Liberation Sans",
    "axis": {"labelFont": "Liberation Sans", "labelFontWeight": "bold", "labelColor": "black", "titleFont": "Liberation Sans", "titleFontWeight": "bold", "titleColor": "black", "domainColor": "black", "tickColor": "black", "domainWidth": 1.5, "tickWidth": 1.5, "grid": false},
    "title": {"font": "Liberation Sans", "color": "black", "fontWeight": "bold"}
  }
}
